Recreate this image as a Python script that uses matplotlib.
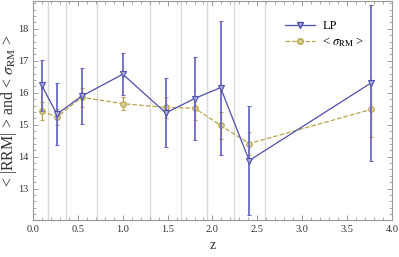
import matplotlib
matplotlib.use("Agg")
import matplotlib.pyplot as plt
from matplotlib.ticker import MultipleLocator, FormatStrFormatter
from matplotlib.lines import Line2D

# valeurs
z_lp = [0.096, 0.265, 0.54, 1.0, 1.48, 1.8, 2.09, 2.41, 3.77]
rrm_lp = [16.23, 15.33, 15.89, 16.58, 15.37, 15.82, 16.16, 13.88, 16.31]
err_lp = [0.80, 0.96, 0.88, 0.65, 1.08, 1.29, 2.10, 1.71, 2.44]

sig_rm = [15.43, 15.24, 15.86, 15.66, 15.54, 15.52, 14.98, 14.41, 15.48]
err_sig = [0.27, 0.25, 0.30, 0.20, 0.34, 0.36, 0.43, 0.37, 0.87]

bin_edges = [0.17, 0.37, 0.71, 1.30, 1.65, 1.94, 2.24, 2.59]

BLUE = "#4f4fb0"
BLUE_ERR = "#6a6ac0"
GOLD = "#b8a548"

plt.rcParams["font.family"] = ["Liberation Serif", "DejaVu Serif"]
plt.rcParams["mathtext.fontset"] = "stix"

fig = plt.figure(figsize=(3.99, 2.57), dpi=100)
ax = fig.add_axes([0.083, 0.144, 0.899, 0.852])

for e in bin_edges:
    ax.axvline(e, color="#d9d9d9", lw=1.0, zorder=0)

ax.errorbar(z_lp, rrm_lp, yerr=err_lp, color=BLUE, ecolor=BLUE_ERR, lw=0.9,
            elinewidth=1.3, capsize=1.5, marker="v", ms=4, mfc="#a8a8dd",
            mec=BLUE, mew=0.8, zorder=3)
ax.errorbar(z_lp, sig_rm, yerr=err_sig, color=GOLD, lw=0.9, ls="--",
            elinewidth=0.9, capsize=1.5, marker="o", ms=4, mfc="#d8cf9a",
            mec=GOLD, mew=0.8, zorder=2)

ax.set_xlim(0, 4)
ax.set_ylim(12.02, 18.87)
ax.xaxis.set_major_locator(MultipleLocator(0.5))
ax.xaxis.set_minor_locator(MultipleLocator(0.1))
ax.yaxis.set_minor_locator(MultipleLocator(0.2))
ax.set_yticks([13, 14, 15, 16, 17, 18])
ax.xaxis.set_major_formatter(FormatStrFormatter("%.1f"))
ax.tick_params(which="both", direction="in", top=True, right=True,
               color="#888888", labelsize=7.5, labelcolor="#333333")
ax.tick_params(which="major", length=3.5, width=0.6)
ax.tick_params(which="minor", length=2, width=0.5)
for s in ax.spines.values():
    s.set_color("#999999")
    s.set_linewidth(0.8)

ax.set_xlabel("z", fontsize=10, color="#333333")
ax.set_ylabel(r"< |RRM| > and < $\sigma_{\rm RM}$ >", fontsize=11.5, color="#333333")
ax.yaxis.set_label_coords(-0.04, 0.5)

handles = [
    Line2D([], [], color=BLUE, lw=0.9, marker="v", ms=4, mfc="#a8a8dd", mec=BLUE),
    Line2D([], [], color=GOLD, lw=0.9, ls="--", marker="o", ms=4, mfc="#d8cf9a", mec=GOLD),
]
ax.legend(handles, ["LP", r"< $\sigma_{\rm RM}$ >"], loc="upper right",
          bbox_to_anchor=(0.955, 0.965), frameon=False, fontsize=9,
          handlelength=2.4, handletextpad=0.6, labelspacing=0.3)

fig.savefig("out.png", dpi=100)
